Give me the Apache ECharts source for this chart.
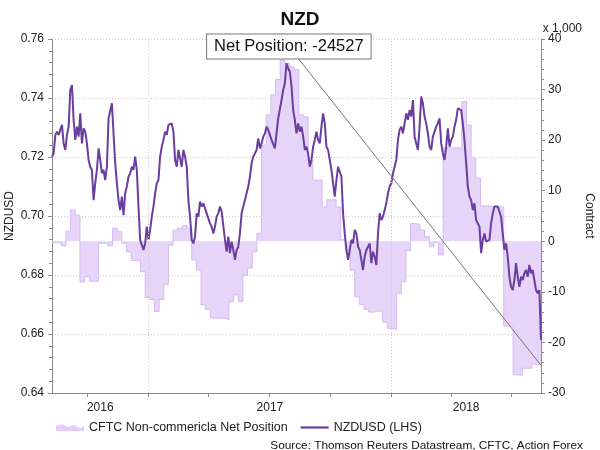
<!DOCTYPE html>
<html>
<head>
<meta charset="utf-8">
<title>NZD</title>
<script src="https://cdn.jsdelivr.net/npm/echarts@6/dist/echarts.min.js"></script>
<style>
  html, body { margin: 0; padding: 0; background: #fff; }
  #chart { width: 600px; height: 450px; }
</style>
</head>
<body>
<div id="chart"></div>
<script>
// CFTC 순포지션 (x 1,000 계약), 2016-08-09 부터 매주
var cftcStart = [2016, 7, 9];
var cftcValues = [
  -0.3, -0.3, -0.9, 2.0, 6.2, 5.2, -8.0, -7.0, -7.9, -7.9,
  -0.4, -0.4, -0.9, 2.6, 1.9, -0.4, -2.1, -3.8, -3.8, -6.0,
  -11.1, -11.5, -13.9, -11.5, -8.5, -0.8, 2.2, 2.6, 3.1, 2.6,
  -3.7, -5.7, -12.6, -13.5, -15.2, -15.2, -15.2, -15.5, -11.9, -10.6,
  -11.9, -6.7, -5.3, -2.1, 1.6, 19.0, 25.0, 29.0, 32.0, 35.8,
  35.2, 34.5, 34.0, 25.0, 24.6, 16.0, 12.1, 12.1, 6.8, 8.2,
  8.2, 6.8, 0.3, -1.8, -5.7, -11.0, -12.5, -13.5, -14.0, -13.8,
  -13.8, -16.0, -17.2, -17.5, -10.3, -8.0, -1.8, 3.5, 3.4, 2.2,
  0.9, -1.1, -0.2, -2.7, 18.5, 18.5, 18.5, 18.5, 27.6, 23.0,
  16.5, 12.5, 7.0, 7.0, 6.8, 6.8, 6.8, -16.8, -16.8, -26.4,
  -26.5, -25.1, -25.1, -24.3, -24.5, -24.527
];

// NZDUSD, 2016-08-09 부터 60시간(2.5일) 간격
var nzdStart = [2016, 7, 9];
var nzdStepHours = 60;
var nzdValues = [
  0.7201, 0.7212, 0.7275, 0.7286, 0.7275, 0.7292, 0.7309, 0.7246, 0.7224, 0.7275,
  0.7303, 0.7427, 0.7444, 0.7326, 0.7258, 0.7303, 0.7269, 0.7348, 0.7246, 0.7297,
  0.7286, 0.7246, 0.7190, 0.7167, 0.7156, 0.7054, 0.7111, 0.7156, 0.7229, 0.7190,
  0.7145, 0.7156, 0.7122, 0.7167, 0.7331, 0.7337, 0.7382, 0.7280, 0.7179, 0.7111,
  0.7054, 0.7020, 0.7066, 0.7003, 0.7077, 0.7100, 0.7133, 0.7145, 0.7167, 0.7156,
  0.7201, 0.7156, 0.7032, 0.6919, 0.6902, 0.6885, 0.6907, 0.6964, 0.6919, 0.6953,
  0.6998, 0.7032, 0.7077, 0.7111, 0.7122, 0.7201, 0.7235, 0.7258, 0.7286, 0.7275,
  0.7309, 0.7314, 0.7314, 0.7286, 0.7190,
  0.7167, 0.7224, 0.7195, 0.7167, 0.7224, 0.7201, 0.7167, 0.7054, 0.6998, 0.6919,
  0.6907, 0.6930, 0.7009, 0.6998, 0.7049, 0.7032, 0.7043, 0.7026, 0.7009, 0.7015,
  0.6975, 0.6964, 0.6941, 0.6964, 0.6998, 0.7009, 0.7032, 0.7015, 0.7009, 0.6919,
  0.6879, 0.6930, 0.6874, 0.6913, 0.6885, 0.6851, 0.6885, 0.6896, 0.6941, 0.7009,
  0.7032, 0.7054, 0.7077, 0.7100, 0.7133, 0.7179, 0.7201, 0.7212, 0.7224, 0.7263,
  0.7229, 0.7246, 0.7269, 0.7280, 0.7303, 0.7292, 0.7286, 0.7258, 0.7263, 0.7229,
  0.7280, 0.7331, 0.7326, 0.7393, 0.7427, 0.7450, 0.7518, 0.7501, 0.7489, 0.7439,
  0.7359, 0.7326,
  0.7280, 0.7314, 0.7286, 0.7303, 0.7269, 0.7224, 0.7235, 0.7212, 0.7167, 0.7190,
  0.7235, 0.7258, 0.7286, 0.7258, 0.7246, 0.7303, 0.7348, 0.7314, 0.7235, 0.7224,
  0.7190, 0.7156, 0.7111, 0.7066, 0.7122, 0.7167, 0.7167, 0.7133, 0.7009, 0.6941,
  0.6885, 0.6851, 0.6885, 0.6919, 0.6907, 0.6953, 0.6941, 0.6896, 0.6885, 0.6851,
  0.6817, 0.6862, 0.6885, 0.6879, 0.6907, 0.6840, 0.6879, 0.6862, 0.6834, 0.6941,
  0.7009, 0.6986, 0.6998, 0.7020, 0.7043, 0.7077, 0.7100, 0.7111, 0.7145, 0.7167,
  0.7190, 0.7258, 0.7292, 0.7303, 0.7280, 0.7314, 0.7348, 0.7326, 0.7359, 0.7337,
  0.7393, 0.7269,
  0.7246, 0.7224, 0.7303, 0.7405, 0.7382, 0.7337, 0.7314, 0.7280, 0.7235, 0.7224,
  0.7269, 0.7286, 0.7303, 0.7314, 0.7331, 0.7246, 0.7212, 0.7190, 0.7235, 0.7297,
  0.7235, 0.7258, 0.7269, 0.7303, 0.7326, 0.7365, 0.7371, 0.7359, 0.7314, 0.7258,
  0.7179, 0.7100, 0.7066, 0.7054, 0.7020, 0.7043, 0.6986, 0.6975, 0.6964, 0.6874,
  0.6919, 0.6941, 0.6913, 0.6919, 0.6919, 0.6975, 0.7009, 0.7032, 0.7032, 0.7032,
  0.7026, 0.6998, 0.6941, 0.6885, 0.6907, 0.6862, 0.6794, 0.6760, 0.6749, 0.6783,
  0.6840, 0.6794, 0.6760, 0.6794, 0.6783, 0.6806, 0.6817, 0.6794, 0.6834, 0.6806,
  0.6817, 0.6783, 0.6749, 0.6738, 0.6749, 0.6580
];

// 축 눈금
var quarterTicks = ['2016-10-01', '2017-01-01', '2017-04-01', '2017-07-01', '2017-10-01', '2018-01-01', '2018-04-01', '2018-07-01'];
var yearBreaks = ['2017-01-01', '2018-01-01'];
var leftTicks = [0.64, 0.66, 0.68, 0.70, 0.72, 0.74, 0.76];
var rightTicks = [-30, -20, -10, 0, 10, 20, 30, 40];
var noteAnchor = ['2017-07-31', 38.5];

var FONT = '"Liberation Sans", Arial, sans-serif';

var ts = function (s) {
  var p = s.split('-');
  return new Date(+p[0], +p[1] - 1, +p[2]).getTime();
};
var dayAfter = function (start, n) {
  return new Date(start[0], start[1], start[2] + n).getTime();
};

var cftcData = cftcValues.map(function (v, i) { return [dayAfter(cftcStart, i * 7), v]; });
var nzdT0 = dayAfter(nzdStart, 0);
var nzdData = nzdValues.map(function (v, i) { return [nzdT0 + i * nzdStepHours * 3600e3, v]; });

var xMin = cftcData[0][0];
var xMax = cftcData[cftcData.length - 1][0];
var lastPoint = cftcData[cftcData.length - 1];

// 연도 라벨은 각 연도 구간의 가운데에
var edges = [xMin].concat(yearBreaks.map(ts)).concat([xMax]);
var yearLabelPos = [];
for (var i = 0; i < edges.length - 1; i++) {
  yearLabelPos.push((edges[i] + edges[i + 1]) / 2);
}

var dom = document.getElementById('chart');
var myChart = echarts.init(dom);

var option = {
  animation: false,
  backgroundColor: '#fff',
  textStyle: { fontFamily: FONT },
  title: [
    {
      text: 'NZD',
      left: 'center',
      top: 5,
      textStyle: { fontFamily: FONT, fontSize: 19, fontWeight: 'bold', color: '#111' }
    },
    {
      text: 'x 1,000',
      right: 13,
      top: 18,
      textStyle: { fontFamily: FONT, fontSize: 12, fontWeight: 'normal', color: '#222' }
    },
    {
      text: 'Source: Thomson Reuters Datastream, CFTC, Action Forex',
      right: 12,
      top: 435,
      textStyle: { fontFamily: FONT, fontSize: 11.8, fontWeight: 'normal', color: '#111' }
    }
  ],
  legend: {
    left: 51,
    top: 416,
    itemWidth: 28,
    itemHeight: 10,
    itemGap: 13,
    textStyle: { fontFamily: FONT, fontSize: 12.5, color: '#222' },
    data: [
      { name: 'CFTC Non-commericla Net Position', icon: 'path://M0,10 L0,5 L6,3 L12,6 L18,4 L24,7 L28,5 L28,10 Z' },
      { name: 'NZDUSD (LHS)', icon: 'path://M0,0 L28,0 L28,2.2 L0,2.2 Z' }
    ]
  },
  grid: { left: 52, right: 59, top: 39, bottom: 57, containLabel: false, outerBoundsMode: 'none' },
  xAxis: {
    type: 'value',
    min: xMin,
    max: xMax,
    axisLine: { onZero: false, lineStyle: { color: '#8a8a8a' } },
    axisTick: {
      show: true,
      length: 4,
      lineStyle: { color: '#8a8a8a' },
      customValues: quarterTicks.map(ts)
    },
    axisLabel: {
      customValues: yearLabelPos,
      formatter: function (v) { return String(new Date(v).getFullYear()); },
      fontFamily: FONT,
      fontSize: 12,
      color: '#222',
      margin: 9
    },
    splitLine: { show: false }
  },
  yAxis: [
    {
      type: 'value',
      min: leftTicks[0],
      max: leftTicks[leftTicks.length - 1],
      interval: 0.02,
      name: 'NZDUSD',
      nameLocation: 'middle',
      nameRotate: 90,
      nameGap: 36,
      nameMoveOverlap: false,
      nameTextStyle: { fontFamily: FONT, fontSize: 12, color: '#222' },
      axisLine: { show: true, lineStyle: { color: '#8a8a8a' } },
      axisTick: { show: true, length: 4, lineStyle: { color: '#8a8a8a' } },
      minorTick: { show: true, splitNumber: 5, length: 3, lineStyle: { color: '#8a8a8a' } },
      axisLabel: {
        formatter: function (v) { return v.toFixed(2); },
        fontFamily: FONT,
        fontSize: 12,
        color: '#222',
        margin: 8
      },
      splitLine: { show: true, lineStyle: { color: '#c8c8c8', type: [1, 2] } }
    },
    {
      type: 'value',
      min: rightTicks[0],
      max: rightTicks[rightTicks.length - 1],
      interval: 10,
      position: 'right',
      name: 'Contract',
      nameLocation: 'middle',
      nameRotate: -90,
      nameGap: 42,
      nameTextStyle: { fontFamily: FONT, fontSize: 12, color: '#222' },
      axisLine: { show: true, lineStyle: { color: '#8a8a8a' } },
      axisTick: { show: true, length: 4, lineStyle: { color: '#8a8a8a' } },
      minorTick: { show: true, splitNumber: 5, length: 3, lineStyle: { color: '#8a8a8a' } },
      axisLabel: {
        formatter: function (v) { return String(v); },
        fontFamily: FONT,
        fontSize: 12,
        color: '#222',
        margin: 7
      },
      splitLine: { show: false }
    }
  ],
  series: [
    {
      name: 'CFTC Non-commericla Net Position',
      type: 'line',
      yAxisIndex: 1,
      step: 'end',
      symbol: 'none',
      data: cftcData,
      itemStyle: { color: '#E2CDF7' },
      lineStyle: { color: '#D5BBF1', width: 1 },
      areaStyle: { color: '#E6D4F9', opacity: 1, origin: 0 },
      z: 1,
      markLine: {
        silent: true,
        symbol: 'none',
        animation: false,
        label: { show: false },
        data: [
          { xAxis: ts(yearBreaks[0]), lineStyle: { color: '#c8c8c8', type: [1, 2], width: 1 } },
          { xAxis: ts(yearBreaks[1]), lineStyle: { color: '#c8c8c8', type: [1, 2], width: 1 } },
          [
            { coord: [ts(noteAnchor[0]), noteAnchor[1]], lineStyle: { color: '#777', type: 'solid', width: 1 } },
            { coord: lastPoint }
          ]
        ]
      },
      markPoint: {
        silent: true,
        symbol: 'rect',
        symbolSize: 1,
        itemStyle: { color: 'rgba(0,0,0,0)' },
        label: {
          show: true,
          position: 'inside',
          formatter: 'Net Position: ' + Math.round(lastPoint[1] * 1000),
          fontFamily: FONT,
          fontSize: 16.5,
          color: '#111',
          backgroundColor: '#fff',
          borderColor: '#777',
          borderWidth: 1,
          padding: [4, 7, 3, 7]
        },
        data: [{ coord: [ts(noteAnchor[0]), noteAnchor[1]] }]
      }
    },
    {
      name: 'NZDUSD (LHS)',
      type: 'line',
      yAxisIndex: 0,
      symbol: 'none',
      data: nzdData,
      itemStyle: { color: '#6A3D9E' },
      lineStyle: { color: '#6A3D9E', width: 2 },
      z: 3
    }
  ]
};

if (option && typeof option === 'object') {
  myChart.setOption(option);
}
</script>
</body>
</html>
